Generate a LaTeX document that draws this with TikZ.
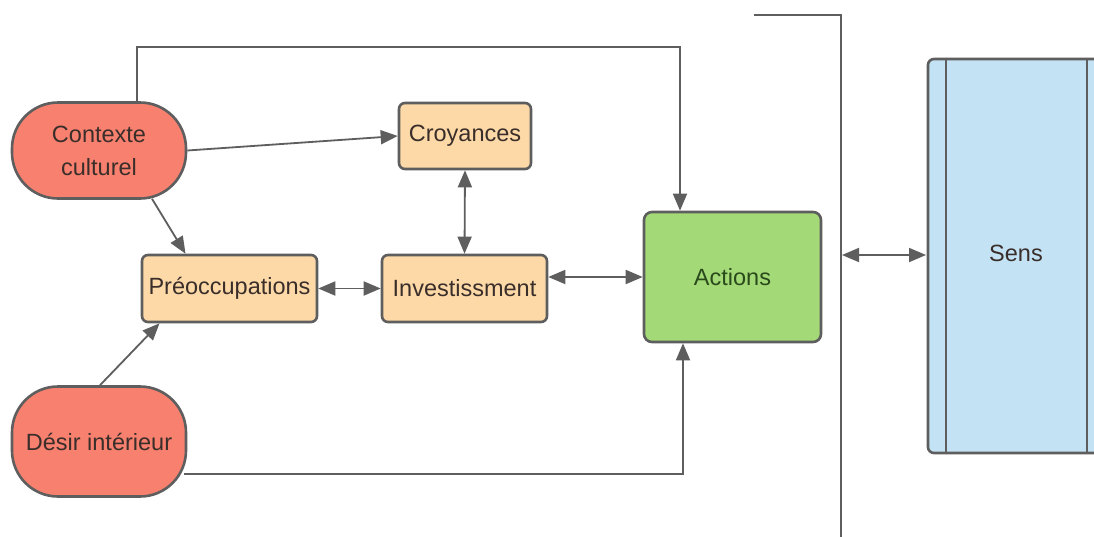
\documentclass[tikz,border=0pt]{standalone}
\usepackage{fontspec}
\setmainfont{Liberation Sans}
\usetikzlibrary{arrows.meta,calc}
\definecolor{edge}{HTML}{5E5E5E}
\definecolor{redf}{HTML}{F8806F}
\definecolor{orf}{HTML}{FDD9A8}
\definecolor{grf}{HTML}{A3D977}
\definecolor{blf}{HTML}{C3E3F5}
\definecolor{txt}{HTML}{3A2E2A}
\definecolor{gtxt}{HTML}{2B4A1C}
\tikzset{
  box/.style={draw=edge, line width=2.6pt, rounded corners=6pt, inner sep=0pt, align=center, text=txt,
    font=\fontsize{23.5}{33}\selectfont},
  pill/.style={box, fill=redf, rounded corners=46pt},
  ora/.style={box, fill=orf},
  arr/.style={draw=edge, line width=1.8pt, -{Triangle[length=17pt,width=14pt]}},
  darr/.style={draw=edge, line width=1.8pt, {Triangle[length=17pt,width=14pt]}-{Triangle[length=17pt,width=14pt]}},
  plain/.style={draw=edge, line width=1.8pt}
}
\begin{document}
\begin{tikzpicture}[x=1pt,y=-1pt]
\clip (0,0) rectangle (1094,536);
\fill[white] (0,0) rectangle (1094,536);
% nodes
\node[pill, minimum width=174pt, minimum height=96pt] (ctx) at (99,150.5) {Contexte\\culturel};
\node[pill, minimum width=174pt, minimum height=110pt] (des) at (99,441.5) {Désir intérieur};
\node[ora, minimum width=132pt, minimum height=66pt] (cro) at (465,136) {Croyances};
\node[ora, minimum width=175pt, minimum height=67pt] (pre) at (229.5,288.5) {Préoccupations};
\node[ora, minimum width=165pt, minimum height=67pt] (inv) at (464.5,288.5) {Investissment};
\node[box, fill=grf, text=gtxt, rounded corners=8pt, minimum width=177pt, minimum height=130pt] (act) at (732.5,277) {Actions};
% Sens box
\draw[draw=edge, line width=2.6pt, fill=blf, rounded corners=6pt] (928,59) rectangle (1115,453);
\draw[edge, line width=2.6pt] (946,59) -- (946,453);
\draw[edge, line width=2.6pt] (1087,59) -- (1087,453);
\node[text=txt, font=\fontsize{23.5}{28}\selectfont] (sens) at (1016,253) {Sens};
\coordinate (sensL) at (928,255);
% bracket
\coordinate (brA) at (754,15);
\coordinate (brB) at (841,15);
\coordinate (brC) at (841,540);
\draw[plain] (brA) -- (brB) -- (brC);
\coordinate (brM) at (841,255);
\draw[darr] ($(brM)+(1,0)$) -- ($(sensL)+(-2,0)$);
% connectors
\coordinate (t1) at (137,47);
\coordinate (t2) at (680,47);
\draw[arr] (ctx.north -| t1) -- (t1) -- (t2) -- (act.north -| t2);
\coordinate (b1) at (683,474);
\draw[arr] ($(des.east |- b1)+(-3,0)$) -- (b1) -- (act.south -| b1);
\draw[arr] (ctx.east) -- (cro.west);
\draw[arr] ($(ctx.south)+(53,-1)$) -- ($(pre.north)+(-44,0)$);
\draw[arr] ($(des.north)+(1,0)$) -- ($(pre.south)+(-70,0)$);
\draw[darr] (pre.east) -- (inv.west);
\draw[darr] (cro.south) -- (inv.north);
\draw[darr] (inv.east |- act.west) -- (act.west);
\end{tikzpicture}
\end{document}
